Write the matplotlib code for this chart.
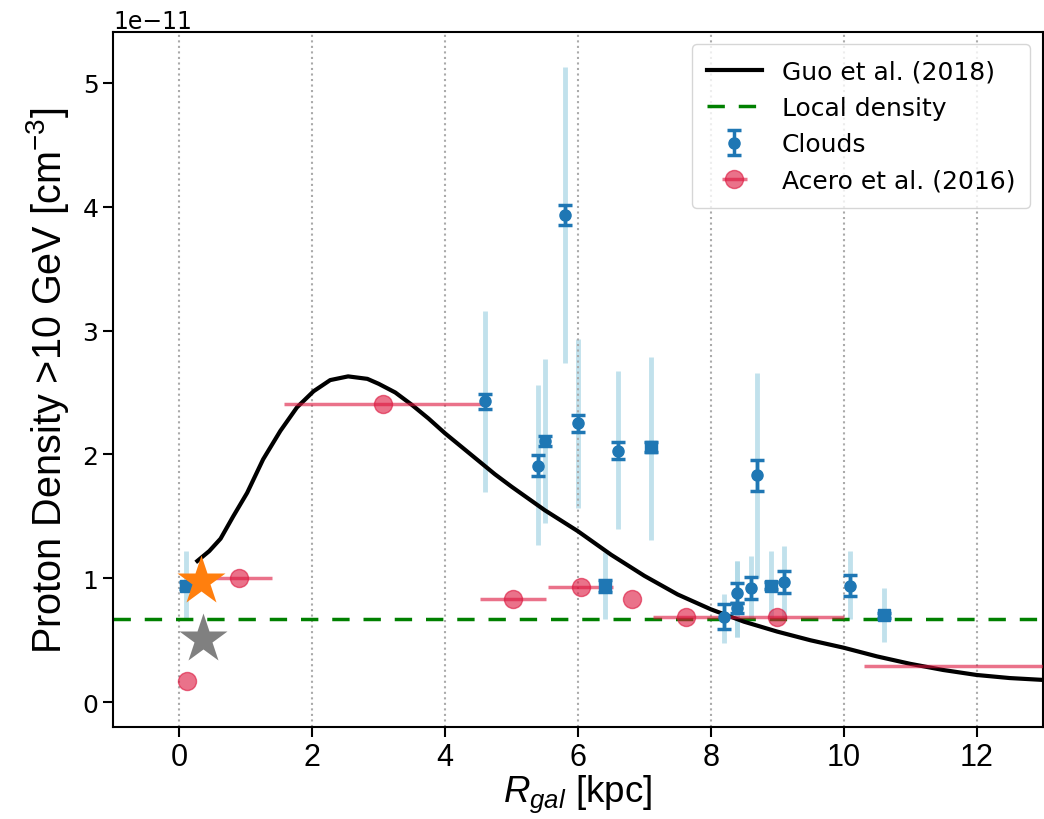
import numpy as np
import matplotlib.pyplot as plt
from matplotlib import font_manager

# densities are given in units of 1e-11 cm^-3
scale = 1e-11

# Guo et al. (2018) radial profile
guo_r = [0.27, 0.45, 0.62, 0.81, 1.02, 1.26, 1.52, 1.77, 2.02, 2.27, 2.54, 2.83,
         3.0, 3.25, 3.5, 3.75, 4.0, 4.25, 4.5, 4.75, 5.0, 5.5, 6.0, 6.5, 7.0,
         7.5, 8.0, 8.5, 9.0, 9.5, 10.0, 10.5, 11.0, 11.5, 12.0, 12.5, 13.0]
guo_n = [1.14, 1.22, 1.32, 1.50, 1.69, 1.96, 2.19, 2.38, 2.51, 2.60, 2.63, 2.61,
         2.57, 2.50, 2.40, 2.29, 2.17, 2.06, 1.95, 1.84, 1.74, 1.55, 1.38, 1.19, 1.02,
         0.87, 0.75, 0.65, 0.57, 0.50, 0.44, 0.37, 0.31, 0.26, 0.22, 0.195, 0.18]

local_density = 0.67

# clouds (round markers)
cloud_r = [4.6, 5.4, 5.5, 5.8, 6.0, 6.6, 8.2, 8.4, 8.4, 8.6, 8.7, 9.1, 10.1]
cloud_n = [2.43, 1.91, 2.11, 3.93, 2.25, 2.03, 0.69, 0.88, 0.76, 0.92, 1.83, 0.97, 0.94]
cloud_err = [0.06, 0.085, 0.04, 0.08, 0.065, 0.07, 0.10, 0.08, 0.04, 0.09, 0.125, 0.09, 0.085]
cloud_lo = [1.70, 1.27, 1.45, 2.74, 1.57, 1.40, 0.48, 0.53, 0.53, 0.66, 1.00, 0.67, 0.67]
cloud_hi = [3.16, 2.56, 2.77, 5.13, 2.93, 2.67, 0.87, 1.14, 1.14, 1.18, 2.66, 1.26, 1.22]

# clouds (square markers)
sq_r = [0.1, 6.4, 7.1, 8.9, 10.6]
sq_n = [0.94, 0.94, 2.06, 0.94, 0.70]
sq_err = [0.03, 0.05, 0.04, 0.03, 0.02]
sq_lo = [0.68, 0.67, 1.31, 0.69, 0.49]
sq_hi = [1.22, 1.21, 2.79, 1.22, 0.92]

# Acero et al. (2016) rings
acero_r = [0.12, 0.89, 3.07, 5.02, 6.04, 6.81, 7.62, 9.0, 13.3]
acero_n = [0.17, 1.0, 2.41, 0.83, 0.93, 0.83, 0.685, 0.685, 0.29]
acero_lo = [0.12, 0.38, 1.58, 4.53, 5.55, 6.81, 7.13, 8.12, 10.3]
acero_hi = [0.12, 1.40, 4.56, 5.52, 6.53, 6.81, 8.12, 10.0, 16.3]

# central estimates
star_r = [0.32, 0.36]
star_n = [0.98, 0.51]
star_c = ['#ff7f0e', 'gray']

names = {f.name for f in font_manager.fontManager.ttflist}
narrow = 'Liberation Sans Narrow' if 'Liberation Sans Narrow' in names else 'Liberation Sans'

plt.rcParams['mathtext.fontset'] = 'custom'
plt.rcParams['mathtext.rm'] = narrow
plt.rcParams['mathtext.it'] = narrow + ':italic'

fig = plt.figure(figsize=(10.44, 8.2), dpi=100)
ax = fig.add_axes([0.1082, 0.1122, 0.8908, 0.8476])

s = lambda v: np.asarray(v) * scale

# systematic ranges of the clouds
ax.vlines(cloud_r, s(cloud_lo), s(cloud_hi), color='lightblue', lw=3.5, alpha=0.75, zorder=1)
ax.vlines(sq_r, s(sq_lo), s(sq_hi), color='lightblue', lw=3.5, alpha=0.75, zorder=1)

ax.plot(guo_r, s(guo_n), color='black', lw=3, label='Guo et al. (2018)', zorder=3)
ax.axhline(local_density * scale, color='green', ls='--', lw=2.5, dashes=(5, 4),
           label='Local density', zorder=2)

ax.errorbar(cloud_r, s(cloud_n), yerr=s(cloud_err), fmt='o', color='#1f77b4', ms=8,
            elinewidth=2.5, capsize=5, capthick=2.5, label='Clouds', zorder=5)
ax.errorbar(sq_r, s(sq_n), yerr=s(sq_err), fmt='s', color='#1f77b4', ms=8,
            elinewidth=2.5, capsize=5, capthick=2.5, zorder=5)

xerr = [np.subtract(acero_r, acero_lo), np.subtract(acero_hi, acero_r)]
ax.errorbar(acero_r, s(acero_n), xerr=xerr, fmt='o', color='crimson', alpha=0.6,
            ms=13, elinewidth=2.5, label='Acero et al. (2016)', zorder=4)

for r, n, c in zip(star_r, star_n, star_c):
    ax.plot(r, n * scale, marker='*', color=c, ms=37, mec='none', zorder=6)

ax.set_xlim(-1, 13)
ax.set_ylim(-0.2 * scale, 5.41 * scale)
ax.set_xticks(np.arange(0, 13, 2))
ax.grid(axis='x', ls=':', color='#aaaaaa', lw=1.5)

ax.tick_params(labelsize=18, length=7, width=1.5)
for lab in ax.get_xticklabels():
    lab.set_family(narrow)
    lab.set_fontsize(22)
ax.yaxis.get_offset_text().set_fontsize(17)
for sp in ax.spines.values():
    sp.set_linewidth(1.5)

ax.set_xlabel(r'$R_{gal}$ [kpc]', fontsize=26.5, family=narrow, labelpad=1)
ax.set_ylabel(r'Proton Density >10 GeV [cm$^{-3}$]', fontsize=28.5, family=narrow, labelpad=8)

ax.legend(loc='upper right', fontsize=18, borderpad=0.6, handlelength=2.2,
          labelspacing=0.5)

fig.savefig('out.png', dpi=100)
